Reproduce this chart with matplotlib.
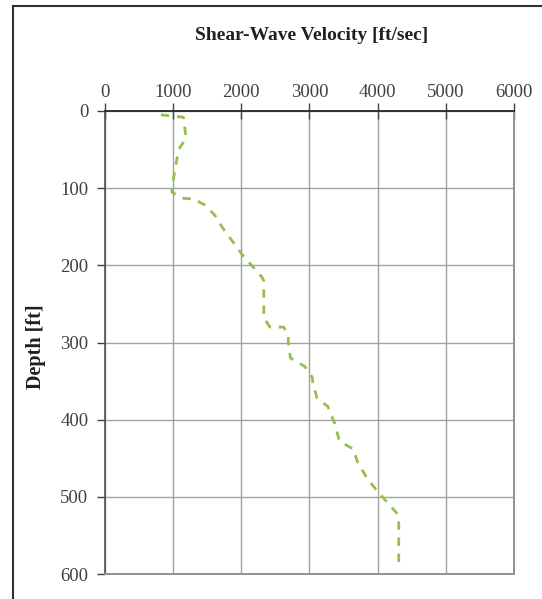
import matplotlib
matplotlib.use("Agg")
import matplotlib.pyplot as plt
from matplotlib.lines import Line2D

# shear-wave velocity profile (ft/sec) against depth (ft)
velocity = [820, 1150, 1190, 1080, 1010, 980, 1130, 1300, 1470, 1610, 1730,
            1880, 2020, 2170, 2300, 2330, 2330, 2420, 2620, 2690, 2690, 2720,
            2930, 3040, 3050, 3110, 3270, 3370, 3440, 3640, 3710, 3860, 4000,
            4150, 4290, 4310, 4310]
depth = [5, 8, 35, 50, 85, 105, 113, 114, 122, 135, 152,
         170, 187, 202, 215, 220, 268, 280, 280, 290, 300, 320,
         331, 345, 352, 372, 383, 405, 428, 438, 456, 478, 493,
         508, 522, 535, 586]

x_ticks = [0, 1000, 2000, 3000, 4000, 5000, 6000]
y_ticks = [0, 100, 200, 300, 400, 500, 600]

plt.rcParams['font.family'] = ['Liberation Serif', 'DejaVu Serif']

fig = plt.figure(figsize=(5.42, 5.99), dpi=100)
ax = fig.add_axes([0.1937, 0.0417, 0.7546, 0.773])

ax.plot(velocity, depth, color='#94c052', linewidth=2.0,
        linestyle=(0, (3, 2.8)))

ax.set_xlim(0, 6000)
ax.set_ylim(600, 0)
ax.set_xticks(x_ticks)
ax.set_yticks(y_ticks)
ax.xaxis.tick_top()
ax.grid(True, color='#a0a0a0', linewidth=1.0)
ax.set_axisbelow(True)

ax.tick_params(axis='x', direction='inout', length=11, width=1,
               pad=2, labelsize=13.5, labelcolor='#404040', color='#404040')
ax.tick_params(axis='y', direction='out', length=6, width=1,
               pad=6, labelsize=13.5, labelcolor='#404040', color='#404040')

ax.spines['top'].set_color('#303030')
ax.spines['top'].set_linewidth(1.4)
ax.spines['left'].set_color('#505050')
ax.spines['left'].set_linewidth(1.2)
for s in ('right', 'bottom'):
    ax.spines[s].set_color('#909090')
    ax.spines[s].set_linewidth(1.4)

fig.text(312 / 542, 1 - 35 / 599, 'Shear-Wave Velocity [ft/sec]',
         ha='center', va='center', fontsize=14, fontweight='bold',
         color='#202020')
fig.text(36 / 542, 1 - 347 / 599, 'Depth [ft]', rotation=90,
         ha='center', va='center', fontsize=14.5, fontweight='bold',
         color='#202020')

# outer frame, only top and left edges are visible
fig.add_artist(Line2D([13 / 542, 1], [1 - 6 / 599, 1 - 6 / 599],
                      transform=fig.transFigure, color='#303030', linewidth=1.5))
fig.add_artist(Line2D([13 / 542, 13 / 542], [0, 1 - 6 / 599],
                      transform=fig.transFigure, color='#303030', linewidth=1.5))

fig.savefig('out.png', dpi=100)
